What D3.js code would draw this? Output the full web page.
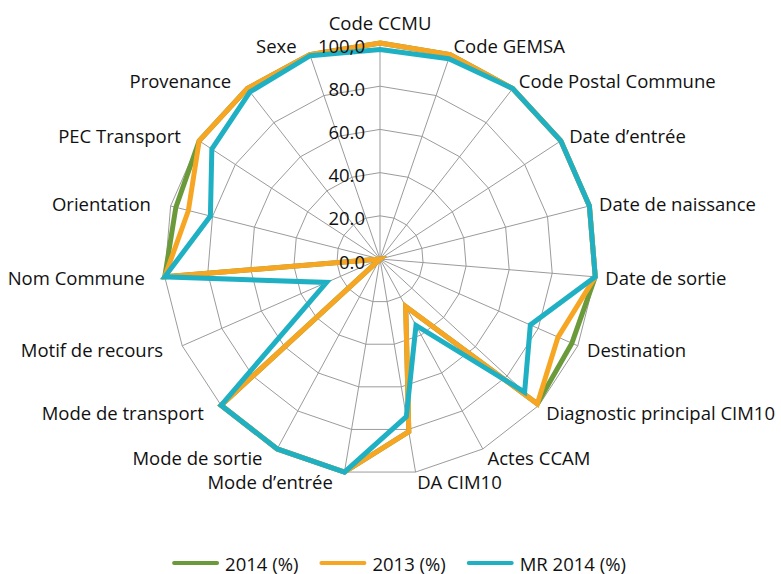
<!DOCTYPE html>
<html>
<head>
<meta charset="utf-8">
<script src="https://cdn.jsdelivr.net/npm/d3@7"></script>
<style>
  html, body { margin: 0; padding: 0; background: #fff; }
  svg { display: block; }
  text { font-family: "Open Sans", Lato, sans-serif; fill: #111; }
</style>
</head>
<body>
<svg id="chart" width="781" height="574"></svg>
<script>
// Fields of the emergency summary record, clockwise from the top
const categories = [
  "Code CCMU", "Code GEMSA", "Code Postal Commune", "Date d’entrée",
  "Date de naissance", "Date de sortie", "Destination",
  "Diagnostic principal CIM10", "Actes CCAM", "DA CIM10", "Mode d’entrée",
  "Mode de sortie", "Mode de transport", "Motif de recours", "Nom Commune",
  "Orientation", "PEC Transport", "Provenance", "Sexe"
];

// Completeness rate per field (%)
const values2014   = [100, 100, 100, 100, 100, 100, 97, 99, 25, 81, 100, 100, 100, 0, 100, 97.5, 100, 100, 100];
const values2013   = [100, 100, 100, 100, 100, 100, 90, 99, 25, 81, 100, 100, 100, 0, 100, 91.5, 100, 100, 100];
const valuesMR2014 = [97, 98, 100, 100, 100, 100, 76, 91, 35, 74, 100, 100, 100, 27, 100, 81, 93, 98, 99.5];

const seriesNames  = ["2014 (%)", "2013 (%)", "MR 2014 (%)"];
const seriesColors = ["#6b9a3b", "#f6a623", "#1fb0c4"];

const tickValues = [0, 20, 40, 60, 80, 100];
const tickLabels = ["0.0", "20.0", "40.0", "60.0", "80.0", "100,0"];

const series = [values2014, values2013, valuesMR2014];

const svg = d3.select("#chart");
const cx = 380, cy = 259, R = 216;
const fontSize = 18.5;

const radius = d3.scaleLinear().domain([0, 100]).range([0, R]);
const angle = d3.scaleLinear().domain([0, categories.length]).range([0, 2 * Math.PI]);

const g = svg.append("g").attr("transform", `translate(${cx},${cy})`);

// Web rings
const ring = lvl => d3.lineRadial()
  .angle((d, i) => angle(i))
  .radius(radius(lvl))
  .curve(d3.curveLinearClosed)(categories);

g.append("g").selectAll("path")
  .data(tickValues.filter(v => v > 0))
  .join("path")
  .attr("d", v => ring(v))
  .attr("fill", "none")
  .attr("stroke", "#9b9b9b")
  .attr("stroke-width", 1);

// Spokes
g.append("g").selectAll("line")
  .data(categories)
  .join("line")
  .attr("x1", 0).attr("y1", 0)
  .attr("x2", (d, i) => d3.pointRadial(angle(i), R)[0])
  .attr("y2", (d, i) => d3.pointRadial(angle(i), R)[1])
  .attr("stroke", "#9b9b9b")
  .attr("stroke-width", 1);

// Series outlines
const seriesLine = d3.lineRadial()
  .angle((d, i) => angle(i))
  .radius(d => radius(d))
  .curve(d3.curveLinearClosed);

g.append("g").selectAll("path")
  .data(series)
  .join("path")
  .attr("d", d => seriesLine(d))
  .attr("fill", "none")
  .attr("stroke", (d, i) => seriesColors[i])
  .attr("stroke-width", 5)
  .attr("stroke-linejoin", "miter");

// Radial axis labels
g.append("g").selectAll("text")
  .data(tickValues)
  .join("text")
  .attr("x", -15)
  .attr("y", v => -radius(v) + 2)
  .attr("text-anchor", "end")
  .attr("dominant-baseline", "central")
  .attr("font-size", fontSize)
  .text((v, i) => tickLabels[i]);

// Category labels
g.append("g").selectAll("text")
  .data(categories)
  .join("text")
  .each(function (d, i) {
    const a = angle(i);
    const [px, py] = d3.pointRadial(a, R + 10);
    const s = Math.sin(a);
    const t = d3.select(this);
    if (Math.abs(s) < 0.01) {
      t.attr("x", px).attr("y", py - 11).attr("text-anchor", "middle");
    } else if (s > 0) {
      t.attr("x", px).attr("y", py).attr("text-anchor", "start");
    } else {
      t.attr("x", px - 10).attr("y", py).attr("text-anchor", "end");
    }
  })
  .attr("dominant-baseline", "central")
  .attr("font-size", fontSize)
  .text(d => d);

// Legend
const legendY = 563, swatch = 47, swatchGap = 6, entryGap = 21;
const legend = svg.append("g");
let lx = 0;
seriesNames.forEach((name, i) => {
  const item = legend.append("g").attr("transform", `translate(${lx},0)`);
  item.append("line")
    .attr("x1", 2).attr("x2", swatch - 2)
    .attr("y1", legendY).attr("y2", legendY)
    .attr("stroke", seriesColors[i])
    .attr("stroke-width", 4)
    .attr("stroke-linecap", "round");
  const txt = item.append("text")
    .attr("x", swatch + swatchGap)
    .attr("y", legendY)
    .attr("dominant-baseline", "central")
    .attr("font-size", fontSize)
    .text(name);
  lx += swatch + swatchGap + txt.node().getComputedTextLength() + entryGap;
});
const legendWidth = lx - entryGap;
legend.attr("transform", `translate(${399 - legendWidth / 2},0)`);
</script>
</body>
</html>
